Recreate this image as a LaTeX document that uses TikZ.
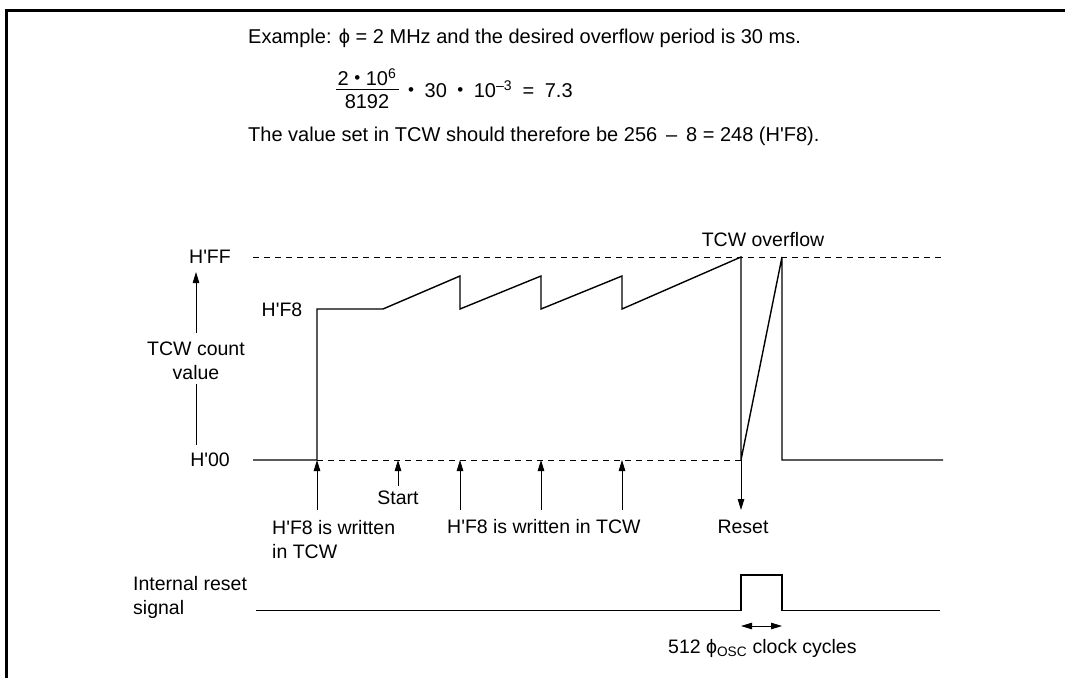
\documentclass[tikz,border=0pt]{standalone}
\usepackage{fontspec}
\setmainfont{Liberation Sans}[Ligatures=TeXOff]
\usetikzlibrary{arrows.meta}
\newcommand{\mybul}{\raisebox{0.15ex}{\scalebox{0.85}{•}}}
\newcommand{\gp}{\hspace{10.5pt}}
\begin{document}
\begin{tikzpicture}[x=1pt,y=-1pt,
  font=\fontsize{19.5}{24}\selectfont,
  every node/.style={inner sep=0pt},
  toptext/.style={font=\fontsize{20}{24}\selectfont},
  wave/.style={line width=1.4pt},
  dashline/.style={line width=0.9pt, dash pattern=on 6pt off 5pt},
  arr/.style={line width=1pt, -{Triangle[length=11pt,width=6.5pt]}},
  dblarr/.style={line width=1pt, {Triangle[length=11pt,width=6.5pt]}-{Triangle[length=11pt,width=6.5pt]}},
  frameline/.style={line width=3pt}]
\useasboundingbox (0,0) rectangle (1065,678);
% frame
\draw[frameline] (6.5,678) -- (6.5,10.5) -- (1065,10.5);
% top text
\node[toptext,anchor=west] (ex) at (248,38) {Example: \symbol{"03D5} = 2 MHz and the desired overflow period is 30 ms.};
\node[toptext] (num) at (367,77) {2 \mybul\ 10\textsuperscript{6}};
\node[toptext] (den) at (367,102) {8192};
\coordinate (barl) at (336,89);
\coordinate (barr) at (399,89);
\draw[line width=1pt] (barl) -- (barr);
\node[toptext,anchor=west] (rest) at (408,89) {\mybul\gp 30\gp\mybul\gp 10\textsuperscript{–3}\gp=\gp 7.3};
\node[toptext,anchor=west] (val) at (248,136) {The value set in TCW should therefore be 256 \,–\, 8 = 248 (H'F8).};
% axis labels
\node (hff) at (210,257) {H'FF};
\node (h00) at (210,460) {H'00};
\node (hf8) at (282,310) {H'F8};
\node[align=center] (axl) at (196,361) {TCW count\\value};
\coordinate (axtop) at (196,272);
\coordinate (axbot) at (196,445);
\draw[arr] (196,333) -- (axtop);
\draw[line width=1pt] (196,384) -- (axbot);
% level lines
\coordinate (ffl) at (253,257);
\coordinate (ffr) at (943,257);
\draw[dashline] (ffl) -- (ffr);
\coordinate (w0) at (317,460);
\coordinate (r0) at (741,460);
\draw[dashline] (w0) -- (r0);
% waveform
\draw[wave] (253,460) -- (w0) -- (317,309) -- (383,309) -- (460,276) -- (460,309)
  -- (541,276) -- (541,309) -- (622,276) -- (622,309) -- (741,257) -- (r0)
  -- (782,257) -- (782,460) -- (943,460);
\node (ovf) at (763,240) {TCW overflow};
% event arrows
\coordinate (st) at (398,460);
\coordinate (w1) at (460,460);
\coordinate (w2) at (541,460);
\coordinate (w3) at (622,460);
\node[align=left,anchor=west] (lab1) at (272,540) {H'F8 is written\\in TCW};
\node (start) at (398,498) {Start};
\node[anchor=west] (lab2) at (447,527) {H'F8 is written in TCW};
\node (reset) at (743,527) {Reset};
\draw[arr] (317,510) -- (w0);
\draw[arr] (398,486) -- (st);
\draw[arr] (460,510) -- (w1);
\draw[arr] (541,510) -- (w2);
\draw[arr] (622,510) -- (w3);
\draw[arr] (r0) -- (741,510);
% internal reset
\node[align=left,anchor=west] (irs) at (133,597.5) {Internal reset\\signal};
\draw[wave] (256,610.5) -- (741,610.5) -- (741,575) -- (782,575) -- (782,610.5) -- (940,610.5);
\coordinate (pl) at (741,626);
\coordinate (pr) at (782,626);
\draw[dblarr] (pl) -- (pr);
\node[anchor=west] (clk) at (668,648) {512 \symbol{"03D5}\textsubscript{OSC} clock cycles};
\end{tikzpicture}
\end{document}
